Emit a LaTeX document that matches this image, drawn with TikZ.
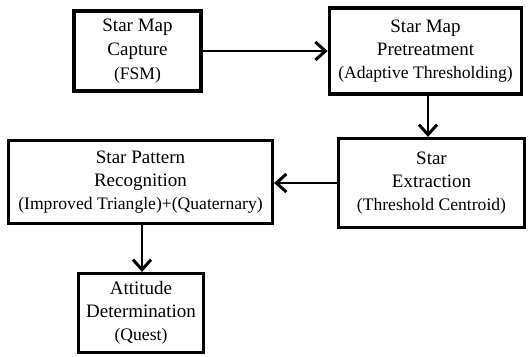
\documentclass[tikz,border=0pt]{standalone}
\usepackage{fontspec}
\setmainfont{Liberation Serif}
\usepackage{xcolor}
\usetikzlibrary{shapes,arrows.meta,positioning}

\tikzset{
    stage/.style={rectangle, draw, line width=3.2pt, text centered, align=center,
        inner sep=0pt, font=\rmfamily\fontsize{19}{23}\selectfont},
    flow/.style={-{Straight Barb[length=10pt,width=18pt,line width=3pt]}, line width=2.8pt}
}
\newcommand{\method}[1]{{\fontsize{17.6}{21}\selectfont #1}}

\begin{document}
\begin{tikzpicture}[x=1pt, y=-1pt]
    \useasboundingbox (0,0) rectangle (529,356);

    \node (capture) [stage, minimum width=127pt, minimum height=80pt, font=\rmfamily\fontsize{19}{24}\selectfont] at (137.5,51)
        {Star Map\\Capture\\\method{(FSM)}};
    \node (pretreat) [stage, line width=3.8pt, minimum width=192pt, minimum height=86pt] at (425.5,51)
        {Star Map\\Pretreatment\\\method{(Adaptive Thresholding)}};
    \node (extract) [stage, minimum width=186pt, minimum height=89pt] at (431.5,183)
        {Star\\Extraction\\\method{(Threshold Centroid)}};
    \node (recog) [stage, minimum width=264pt, minimum height=83pt] at (140.5,182)
        {Star Pattern\\Recognition\\\method{(Improved Triangle)+(Quaternary)}};
    \node (attitude) [stage, minimum width=125pt, minimum height=79pt] at (141,313)
        {Attitude\\Determination\\\method{(Quest)}};

    \draw [flow] (capture) -- (pretreat.west |- capture);
    \draw [flow] (pretreat.south -| 428,0) -- (extract.north -| 428,0);
    \draw [flow] (extract.west |- 0,183) -- (recog.east |- 0,183);
    \draw [flow] (recog.south -| 142,0) -- (attitude.north -| 142,0);
\end{tikzpicture}
\end{document}
